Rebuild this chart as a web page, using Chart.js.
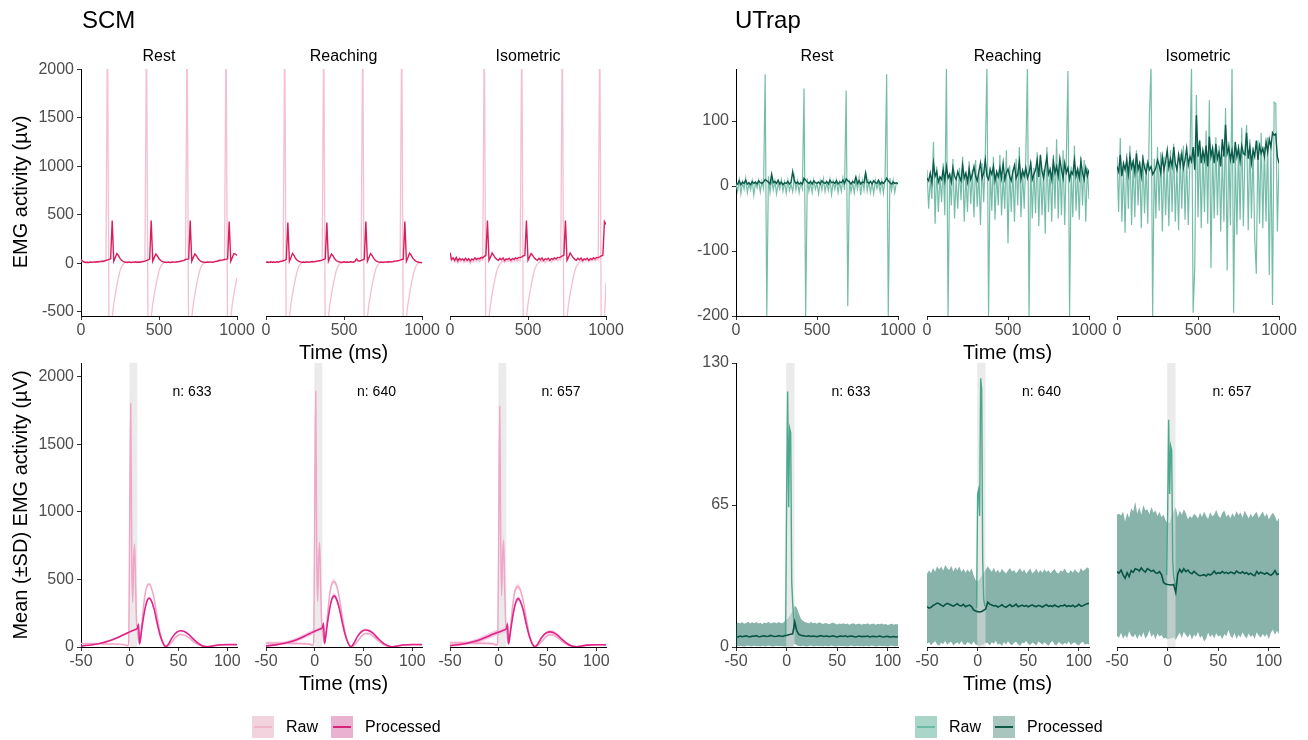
<!DOCTYPE html>
<html>
<head>
<meta charset="utf-8">
<script src="https://cdn.jsdelivr.net/npm/chart.js@4.4.0/dist/chart.umd.min.js"></script>
<style>
  body { margin: 0; background: #fff; }
  #fig { position: relative; width: 1308px; height: 740px; overflow: hidden; font-family: "Liberation Sans", Arial, Helvetica, sans-serif; }
  #fig canvas { position: absolute; }
  .lbl { position: absolute; white-space: nowrap; line-height: 1; color: #000; }
  .key { position: absolute; width: 22px; height: 22px; }
  .key span { position: absolute; left: 2px; right: 2px; top: 10px; height: 2px; }
</style>
</head>
<body>
<div id="fig"></div>
<script>
// ---- sample times ----
var timeTop = [];
for (var t = 0; t <= 1000; t += 10) timeTop.push(t);
var timeAvgUT = [];
for (var t2 = -50; t2 <= 110; t2 += 2) timeAvgUT.push(t2);
var timeAvgSCM = [-50, -40, -30, -20, -10, -5, -2, -1, 0, 1, 2, 3, 4, 5, 6, 7, 8, 9, 10, 11, 12, 14, 16, 18, 20,
  22, 25, 28, 31, 34, 37, 40, 44, 48, 52, 56, 60, 65, 70, 75, 80, 85, 90, 100, 110];
var utSpikeT = [-1, 0, 1, 2, 3, 4, 5, 6, 7, 8];
var bandMs = [-0.5, 8];

var conditions = ['Rest', 'Reaching', 'Isometric'];
var nTrials = ['n: 633', 'n: 640', 'n: 657'];

// ---- tick labels ----
var xTicksTop = [0, 500, 1000];
var xTicksAvg = [-50, 0, 50, 100];
var yTicksScmTop = [-500, 0, 500, 1000, 1500, 2000];
var yTicksUtTop = [-200, -100, 0, 100];
var yTicksScmAvg = [0, 500, 1000, 1500, 2000];
var yTicksUtAvg = [0, 65, 130];

// ---- SCM single trials (0-1000 ms) ----
var scmRestRaw = [30, 15, 10, 12, 8, 15, 10, 14, 12, 18,
  14, 20, 16, 22, 18, 25, 28, 2500, -900, -800,
  -560, -420, -320, -230, -150, -80, -35, -10, 5, 10,
  12, 8, 14, 10, 15, 12, 18, 14, 20, 22,
  25, 30, 2500, -900, -800, -560, -420, -320, -230, -150,
  -80, -35, -10, 5, 10, 8, 12, 10, 15, 12,
  14, 18, 15, 20, 22, 28, 30, 35, 2500, -900,
  -800, -560, -420, -320, -230, -150, -80, -35, -10, 5,
  10, 12, 8, 14, 10, 15, 18, 20, 22, 25,
  28, 30, 35, 2500, -900, -800, -560, -420, -320, -230,
  -150];
var scmRestProc = [40, 22, 12, 8, 10, 6, 12, 9, 14, 10,
  15, 12, 16, 20, 18, 25, 28, 35, 40, 45,
  440, 20, 60, 100, 80, 50, 30, 20, 12, 10,
  8, 12, 6, 10, 9, 14, 8, 12, 10, 15,
  18, 22, 28, 35, 40, 440, 20, 60, 95, 75,
  45, 28, 18, 12, 10, 8, 12, 6, 10, 14,
  9, 12, 15, 18, 22, 25, 30, 38, 42, 45,
  440, 20, 60, 95, 78, 48, 30, 20, 12, 10,
  8, 12, 10, 14, 9, 12, 16, 20, 25, 30,
  32, 35, 38, 40, 45, 430, 20, 60, 100, 95,
  80];
var scmReachRaw = [15, 10, 12, 8, 14, 10, 12, 15, 10, 18,
  20, 22, 2500, -900, -800, -560, -420, -320, -230, -150,
  -80, -35, -10, 5, 10, 8, 12, 10, 14, 12,
  15, 18, 14, 20, 22, 25, 28, 2500, -900, -800,
  -560, -420, -320, -230, -150, -80, -35, -10, 5, 10,
  12, 8, 14, 10, 12, 15, 10, 18, 40, 20,
  25, 28, 2500, -900, -800, -560, -420, -320, -230, -150,
  -80, -35, -10, 5, 10, 12, 8, 14, 10, 15,
  12, 18, 15, 20, 22, 25, 30, 2500, -900, -800,
  -560, -420, -320, -230, -150, -80, -35, -10, 5, 8,
  5];
var scmReachProc = [10, 12, 8, 14, 10, 12, 9, 15, 11, 18,
  20, 25, 30, 40, 420, 20, 60, 100, 78, 48,
  30, 20, 14, 10, 12, 8, 14, 10, 12, 15,
  18, 14, 20, 22, 25, 28, 32, 40, 45, 420,
  20, 60, 95, 75, 45, 28, 18, 12, 10, 8,
  14, 10, 12, 9, 15, 12, 10, 18, 45, 25,
  22, 28, 35, 42, 430, 20, 60, 100, 80, 50,
  30, 20, 14, 10, 12, 8, 14, 11, 15, 12,
  16, 14, 20, 22, 25, 28, 32, 38, 42, 430,
  20, 60, 105, 85, 55, 35, 22, 15, 10, 8,
  5];
var scmIsoRaw = [60, 20, 45, 10, 35, 0, 30, 15, 40, 5,
  30, 12, 35, -5, 28, 10, 40, 20, 35, 15,
  45, 30, 2500, -900, -800, -560, -420, -320, -230, -150,
  -80, -35, -10, 10, 25, 5, 30, 15, 35, 10,
  28, 20, 40, 15, 35, 25, 2500, -900, -800, -560,
  -420, -320, -230, -150, -80, -35, -10, 10, 30, 15,
  35, 5, 28, 20, 40, 12, 35, 30, 45, 25,
  40, 35, 2500, -900, -800, -560, -420, -320, -230, -150,
  -80, -35, -10, 12, 30, 8, 35, 20, 40, 15,
  30, 25, 45, 20, 38, 30, 2500, -900, -800, -560,
  -200];
var scmIsoProc = [110, 40, 55, 30, 60, 25, 50, 35, 45, 28,
  52, 30, 48, 22, 45, 35, 55, 40, 50, 45,
  60, 55, 70, 80, 440, 30, 65, 105, 80, 55,
  40, 30, 50, 35, 55, 28, 45, 38, 52, 30,
  48, 40, 55, 45, 60, 58, 65, 75, 80, 440,
  30, 65, 100, 80, 55, 40, 30, 50, 35, 55,
  28, 45, 38, 52, 30, 48, 40, 55, 45, 60,
  58, 65, 75, 80, 440, 30, 65, 105, 80, 55,
  40, 30, 50, 35, 55, 28, 45, 38, 52, 30,
  48, 40, 55, 45, 60, 58, 65, 75, 80, 430,
  400];

// ---- UTrap single trials (0-1000 ms) ----
var utRestRaw = [3, -8, 10, -12, 6, -5, 12, -10, 4, -6,
  8, -14, 5, -3, 9, -9, 7, -4, 172, -200,
  15, -10, 12, -6, 8, -12, 4, -5, 10, -8,
  6, -11, 9, -7, 3, -9, 14, -6, 8, -10,
  5, -4, 150, -200, 12, -8, 6, -10, 9, -5,
  4, -12, 8, -6, 11, -9, 5, -7, 10, -13,
  7, -5, 9, -10, 6, -8, 12, -6, 147, -185,
  10, -9, 6, -11, 8, -5, 13, -14, 9, -6,
  22, -8, 7, -10, 5, -12, 9, -4, 6, -9,
  8, -11, 10, 172, -200, 12, -7, 9, -10, 5,
  4];
var utRestProc = [5, 3, 8, 2, 6, 4, 9, 3, 5, 2,
  7, 4, 6, 3, 8, 5, 4, 6, 10, 8,
  6, 3, 18, 5, 7, 4, 9, 3, 6, 2,
  5, 4, 7, 3, 6, 22, 8, 4, 6, 3,
  5, 3, 12, 9, 6, 4, 7, 3, 8, 5,
  4, 6, 3, 8, 5, 4, 7, 3, 9, 5,
  6, 4, 8, 3, 6, 5, 9, 4, 11, 8,
  6, 3, 7, 5, 14, 4, 8, 3, 6, 5,
  20, 6, 4, 7, 3, 8, 5, 4, 9, 3,
  6, 4, 7, 12, 8, 5, 3, 6, 4, 5,
  3];
var utReachRaw = [25, -35, 10, -20, 68, -58, 30, -40, 15, -25,
  35, -45, 185, -200, 20, -30, 42, -50, 12, -35,
  28, -22, 45, -55, 18, -40, 38, -28, 25, -48,
  40, -32, 22, -60, 35, -25, 50, 185, -200, 30,
  -38, 45, -52, 20, -30, 48, -45, 15, -35, 55,
  -88, 32, -40, 25, -55, 42, -30, 60, -48, 22,
  -35, 45, 185, -200, 38, -50, 28, -42, 52, -62,
  35, -45, 25, -73, 60, -40, 30, -55, 48, -35,
  72, -50, 38, -45, 55, -60, 42, 177, -200, 30,
  -48, 62, -38, 25, -52, 45, -30, 40, -55, 28,
  -20];
var utReachProc = [12, 8, 20, 5, 35, 15, 22, 6, 14, 10,
  25, 8, 30, 12, 18, 6, 28, 15, 10, 22,
  14, 8, 32, 12, 20, 6, 26, 10, 18, 30,
  15, 8, 22, 35, 12, 20, 40, 15, 10, 25,
  18, 30, 8, 22, 14, 28, 12, 35, 10, 20,
  26, 15, 8, 22, 32, 12, 18, 38, 10, 24,
  15, 28, 12, 20, 35, 10, 18, 25, 40, 14,
  48, 22, 12, 30, 45, 18, 25, 10, 38, 20,
  30, 15, 42, 25, 12, 35, 20, 28, 10, 22,
  18, 40, 15, 26, 12, 38, 20, 10, 28, 15,
  25];
var utIsoRaw = [45, -40, 74, -55, 30, -72, 50, -35, 62, -60,
  40, -48, 55, -30, 38, -65, 48, -42, 35, -58,
  109, 185, -200, 42, -50, 60, -38, 52, -70, 45,
  -45, 38, -62, 55, -40, 65, -55, 30, -68, 50,
  -35, 62, -52, 45, -60, 38, 185, -195, -125, 140,
  -48, 70, -65, 55, -40, 85, -58, 132, -126, 60,
  -50, 75, -45, 62, -70, 50, -55, 120, -130, 68,
  -60, 185, -195, 58, -75, 65, -52, 90, -62, 55,
  94, -68, 72, -50, 60, -80, -135, 70, -58, 82,
  -65, 60, -55, 75, -137, 68, -183, 129, 127, -70,
  40];
var utIsoProc = [30, 22, 48, 15, 35, 25, 40, 18, 45, 28,
  38, 20, 50, 25, 35, 15, 42, 28, 20, 36,
  25, 30, 18, 22, 28, 40, 32, 20, 45, 25,
  38, 55, 28, 42, 30, 60, 35, 25, 48, 32,
  50, 28, 40, 58, 32, 45, 38, 60, 25, 109,
  45, 70, 35, 55, 40, 62, 30, 76, 45, 58,
  35, 65, 42, 52, 30, 72, 45, 94, 50, 60,
  40, 55, 35, 68, 45, 58, 38, 62, 50, 48,
  82, 42, 60, 35, 55, 45, 70, 40, 62, 50,
  58, 45, 68, 52, 72, 60, 82, 78, 80, 45,
  35];

// ---- SCM averages (-50..110 ms), mean and SD ----
var scmRestRawMean = [25, 25, 24, 22, 20, 16, 10, 40, 1000, 1800, 700, 330, 640, 760, 450, 180, 110, 50, 20, 60, 140,
  290, 400, 455, 465, 440, 360, 230, 110, 35, 3, 12, 45, 78, 92, 88, 72, 42, 18, 5, 2, 6, 12, 15, 15];
var scmRestRawSd = [3, 3, 3, 3, 3, 3, 3, 5, 60, 80, 40, 20, 30, 30, 20, 10, 5, 5, 4, 4, 5,
  6, 8, 10, 10, 10, 8, 6, 5, 4, 3, 3, 3, 4, 4, 4, 4, 3, 3, 3, 3, 3, 3, 3, 3];
var scmRestProcMean = [8, 15, 28, 48, 78, 95, 105, 108, 112, 115, 118, 121, 124, 127, 130, 133, 140, 170, 25, 60, 115,
  215, 295, 345, 362, 345, 280, 180, 90, 30, 2, 25, 75, 108, 120, 115, 95, 60, 28, 8, 2, 8, 15, 18, 18];
var scmRestProcSd = [3, 4, 5, 6, 7, 8, 8, 8, 8, 8, 8, 8, 8, 8, 8, 8, 10, 15, 5, 5, 8,
  10, 10, 10, 10, 10, 10, 8, 6, 4, 2, 3, 4, 5, 5, 5, 5, 4, 3, 2, 2, 2, 2, 2, 2];
var scmReachRawMean = [28, 30, 28, 26, 24, 20, 12, 45, 1050, 1890, 720, 340, 650, 770, 460, 190, 115, 55, 22, 65, 150,
  305, 420, 475, 485, 460, 375, 240, 115, 36, 3, 10, 42, 80, 100, 98, 80, 46, 20, 6, 2, 6, 12, 16, 16];
var scmReachRawSd = [10, 10, 10, 10, 10, 8, 6, 8, 150, 200, 80, 40, 50, 50, 40, 20, 10, 8, 6, 8, 10,
  15, 18, 20, 20, 20, 18, 14, 10, 6, 3, 4, 6, 8, 8, 8, 7, 5, 4, 3, 3, 3, 3, 3, 3];
var scmReachProcMean = [8, 16, 30, 50, 82, 100, 110, 113, 117, 120, 123, 126, 129, 132, 135, 138, 145, 175, 28, 65, 120,
  225, 310, 362, 378, 360, 292, 188, 95, 32, 2, 26, 80, 114, 126, 120, 100, 63, 30, 9, 2, 8, 15, 18, 18];
var scmReachProcSd = [6, 8, 10, 14, 16, 16, 16, 16, 16, 16, 16, 16, 16, 16, 16, 16, 18, 20, 8, 8, 12,
  15, 18, 20, 20, 20, 18, 15, 10, 6, 3, 5, 8, 10, 10, 10, 9, 7, 5, 3, 3, 3, 3, 3, 3];
var scmIsoRawMean = [30, 32, 30, 28, 26, 22, 14, 40, 900, 1780, 800, 380, 680, 790, 470, 200, 120, 55, 22, 60, 140,
  285, 395, 440, 448, 425, 345, 222, 105, 33, 3, 12, 40, 72, 90, 88, 72, 42, 18, 5, 2, 6, 12, 16, 16];
var scmIsoRawSd = [12, 12, 12, 12, 12, 10, 8, 10, 150, 220, 90, 40, 50, 50, 40, 20, 10, 8, 6, 8, 10,
  15, 18, 22, 22, 22, 18, 14, 10, 6, 3, 4, 6, 8, 8, 8, 7, 5, 4, 3, 3, 3, 3, 3, 3];
var scmIsoProcMean = [10, 18, 32, 52, 82, 98, 106, 108, 110, 112, 115, 118, 121, 124, 127, 130, 138, 172, 25, 60, 112,
  210, 290, 340, 358, 340, 275, 176, 88, 28, 2, 22, 70, 100, 112, 108, 90, 56, 26, 8, 2, 8, 14, 17, 17];
var scmIsoProcSd = [8, 10, 12, 16, 20, 20, 20, 20, 20, 20, 20, 20, 20, 20, 20, 20, 20, 22, 8, 8, 12,
  15, 16, 18, 18, 18, 16, 14, 10, 6, 3, 5, 8, 10, 12, 12, 10, 8, 5, 3, 3, 3, 3, 3, 3];

// ---- UTrap averages (-50..110 ms, 2 ms steps) ----
var utRestMean = [4.8, 4.6, 5.0, 4.7, 4.9, 5.1, 4.8, 4.6, 5.0, 4.9,
  5.2, 4.8, 4.7, 5.0, 5.1, 4.8, 4.9, 5.3, 5.0, 4.8,
  4.9, 5.1, 5.0, 4.8, 5.2, 5.3, 5.6, 5.8, 6.0, 11.5,
  7.5, 5.8, 5.4, 5.2, 5.0, 4.9, 5.1, 4.8, 5.0, 4.9,
  4.7, 5.0, 5.2, 4.8, 4.9, 5.0, 4.7, 4.9, 5.1, 4.8,
  4.6, 4.9, 5.0, 4.8, 5.1, 4.7, 4.9, 5.0, 4.8, 4.6,
  4.8, 5.0, 4.7, 4.9, 4.8, 5.0, 4.6, 4.8, 4.9, 4.7,
  4.8, 5.0, 4.7, 4.6, 4.8, 4.9, 4.5, 4.7, 4.8, 4.6,
  4.7];
var utRestUpper = [10.5, 11.2, 10.8, 11.5, 10.6, 11.0, 11.6, 10.7, 11.3, 10.9,
  11.4, 10.8, 11.1, 10.5, 11.2, 10.9, 11.6, 10.8, 11.0, 11.3,
  10.7, 11.5, 11.0, 10.9, 11.8, 12.5, 13.5, 15.0, 16.5, 19.0,
  18.0, 15.5, 13.0, 12.0, 11.5, 11.2, 10.8, 11.4, 10.9, 11.1,
  10.6, 11.3, 10.9, 10.5, 11.0, 10.8, 10.4, 10.9, 11.2, 10.6,
  10.3, 10.8, 10.5, 10.9, 10.4, 10.7, 10.2, 10.6, 10.9, 10.3,
  10.5, 10.8, 10.2, 10.6, 10.4, 10.9, 10.3, 10.5, 10.7, 10.2,
  10.6, 10.4, 10.8, 10.3, 10.5, 10.1, 10.4, 10.6, 10.2, 10.5,
  10.3];
var utRestLower = [0.5, 0.3, 0.6, 0.4, 0.2, 0.5, 0.7, 0.3, 0.4, 0.6,
  0.3, 0.5, 0.2, 0.6, 0.4, 0.3, 0.7, 0.5, 0.2, 0.4,
  0.6, 0.3, 0.5, 0.4, 0.2, 0.3, 0.2, 0.3, 0.4, 1.5,
  0.8, 0.5, 0.3, 0.6, 0.4, 0.2, 0.5, 0.7, 0.3, 0.4,
  0.6, 0.3, 0.5, 0.2, 0.6, 0.4, 0.3, 0.7, 0.5, 0.2,
  0.4, 0.6, 0.3, 0.5, 0.4, 0.2, 0.5, 0.7, 0.3, 0.4,
  0.6, 0.3, 0.5, 0.2, 0.6, 0.4, 0.3, 0.7, 0.5, 0.2,
  0.4, 0.6, 0.3, 0.5, 0.4, 0.2, 0.5, 0.7, 0.3, 0.4,
  0.5];
var utReachMean = [18.5, 17.8, 18.2, 19.0, 19.5, 20.1, 19.8, 19.2, 18.6, 19.4,
  20.0, 19.6, 19.1, 18.7, 19.3, 19.8, 19.0, 18.8, 19.5, 18.4,
  18.9, 19.2, 18.5, 17.0, 16.5, 16.2, 16.0, 16.3, 16.8, 17.5,
  20.5, 19.6, 19.2, 18.8, 19.0, 18.3, 18.7, 19.3, 18.6, 18.2,
  18.8, 19.4, 18.5, 18.9, 19.6, 18.4, 18.8, 19.2, 18.6, 19.0,
  18.4, 18.9, 19.3, 18.7, 18.5, 19.1, 18.8, 18.3, 18.9, 19.4,
  18.6, 18.9, 18.5, 19.2, 18.7, 18.4, 19.0, 18.8, 19.3, 18.5,
  18.9, 18.6, 19.1, 18.4, 18.8, 19.5, 18.7, 18.9, 19.4, 19.8,
  20.0];
var utReachUpper = [33.5, 35.0, 33.8, 36.2, 34.5, 37.0, 35.5, 36.8, 34.9, 37.5,
  36.0, 35.2, 37.2, 34.6, 36.5, 35.1, 36.9, 34.3, 35.8, 34.0,
  35.5, 34.2, 36.0, 33.0, 30.5, 30.0, 31.0, 32.5, 34.0, 35.5,
  37.0, 35.6, 34.4, 36.3, 34.1, 35.4, 33.9, 35.8, 34.6, 33.7,
  35.0, 36.2, 34.5, 35.3, 33.8, 34.9, 36.0, 34.2, 35.5, 33.6,
  34.8, 35.9, 33.7, 34.6, 35.8, 33.9, 35.2, 34.0, 35.6, 34.3,
  35.1, 33.8, 34.9, 35.7, 34.1, 33.6, 35.0, 34.4, 35.9, 34.2,
  33.8, 35.3, 34.0, 35.6, 34.5, 33.9, 36.2, 34.8, 35.4, 36.5,
  35.8];
var utReachLower = [1.5, 2.2, 0.8, 1.8, 2.6, 1.2, 0.6, 2.0, 1.4, 2.8,
  1.0, 1.9, 2.4, 0.7, 1.6, 2.1, 1.1, 2.7, 1.3, 0.9,
  2.3, 1.7, 1.0, 2.5, 1.2, 0.8, 0.6, 0.9, 1.1, 2.0,
  1.8, 0.7, 2.2, 1.5, 2.9, 1.0, 1.6, 0.5, 2.3, 1.2,
  2.6, 1.4, 0.8, 1.9, 2.4, 1.1, 0.6, 2.0, 1.7, 2.8,
  1.3, 0.9, 2.1, 1.5, 0.7, 2.5, 1.8, 1.0, 2.2, 1.4,
  0.6, 1.9, 2.7, 1.2, 0.8, 2.3, 1.6, 1.0, 2.0, 1.3,
  2.5, 0.9, 1.7, 2.2, 1.1, 0.7, 1.8, 2.4, 1.0, 1.5,
  1.2];
var utIsoMean = [34.5, 33.8, 35.2, 33.0, 31.5, 34.0, 32.2, 35.0, 34.2, 35.8,
  35.5, 34.8, 36.2, 35.0, 34.3, 35.9, 35.3, 34.6, 35.1, 34.0,
  33.8, 34.5, 33.0, 29.5, 28.8, 28.6, 28.5, 28.4, 28.6, 25.0,
  33.5, 35.5, 34.2, 35.8, 34.5, 35.2, 34.0, 33.5, 34.6, 33.8,
  33.0, 32.6, 32.8, 33.1, 32.5, 33.4, 32.9, 33.6, 34.8, 33.5,
  34.0, 33.7, 34.5, 33.8, 34.2, 33.6, 34.3, 34.0, 33.5, 34.7,
  34.1, 33.8, 34.4, 33.6, 34.0, 33.2, 33.8, 33.0, 32.6, 34.6,
  33.5, 34.2, 33.8, 33.4, 34.0, 33.3, 32.8, 33.6, 35.0, 33.2,
  33.5];
var utIsoUpper = [60.5, 61.0, 60.2, 62.0, 57.5, 61.5, 59.0, 63.5, 62.0, 66.5,
  61.0, 64.0, 60.5, 65.0, 62.5, 63.0, 60.8, 64.2, 61.5, 62.5,
  60.0, 61.8, 59.5, 60.5, 58.0, 56.5, 57.0, 60.0, 62.0, 64.0,
  59.5, 62.5, 60.5, 63.0, 61.2, 58.5, 60.0, 59.0, 61.0, 60.2,
  58.8, 61.5, 59.5, 62.0, 60.0, 58.6, 61.8, 59.8, 60.5, 62.8,
  60.2, 59.0, 61.4, 62.5, 59.6, 60.8, 58.9, 61.2, 59.5, 62.2,
  60.4, 61.6, 59.2, 62.4, 60.6, 58.8, 61.0, 59.4, 60.9, 61.8,
  59.0, 60.6, 62.0, 59.6, 61.2, 58.4, 60.2, 61.5, 59.8, 57.5,
  59.0];
var utIsoLower = [5.0, 4.2, 6.5, 3.8, 5.5, 4.0, 7.2, 5.1, 4.5, 6.0,
  3.5, 5.8, 4.4, 6.8, 3.9, 5.2, 7.5, 4.6, 5.9, 3.6,
  6.2, 4.8, 5.5, 3.8, 4.2, 3.5, 3.8, 4.0, 4.5, 3.2,
  5.0, 6.5, 4.0, 7.0, 5.5, 4.3, 6.1, 3.4, 5.6, 4.7,
  6.9, 4.1, 5.3, 2.5, 3.8, 6.6, 4.5, 5.8, 3.9, 6.3,
  4.8, 5.4, 3.6, 6.0, 4.9, 7.8, 5.2, 4.0, 6.4, 3.7,
  5.6, 4.4, 6.7, 5.0, 3.9, 6.2, 4.6, 5.5, 3.8, 6.8,
  5.1, 4.3, 6.0, 4.7, 5.9, 3.5, 6.5, 8.0, 5.6, 7.4,
  6.0];
var utRestSpike = [5, 70, 117, 64, 100, 98, 30, 20, 12, 8];
var utReachSpike = [18, 70, 72, 60, 123, 118, 40, 22, 19, 19];
var utIsoSpike = [33, 60, 104, 70, 92, 90, 40, 32, 30, 28];

// ---- helpers ----
var fig = document.getElementById('fig');
var FONT = '"Liberation Sans", Arial, Helvetica, sans-serif';

function pts(t, v) {
  return t.map(function (x, i) { return { x: x, y: v[i] }; });
}
function line(t, v, color, width, order) {
  return { data: pts(t, v), borderColor: color, borderWidth: width, pointRadius: 0, fill: false, tension: 0, order: order };
}
function smooth(t, v, color, width, order) {
  var d = line(t, v, color, width, order);
  d.cubicInterpolationMode = 'monotone';
  return d;
}
function ribbon(t, up, lo, color, order, mono) {
  var a = { data: pts(t, up), borderWidth: 0, pointRadius: 0, fill: '+1', backgroundColor: color, order: order };
  var b = { data: pts(t, lo), borderWidth: 0, pointRadius: 0, fill: false, order: order };
  if (mono) { a.cubicInterpolationMode = 'monotone'; b.cubicInterpolationMode = 'monotone'; }
  return [a, b];
}
function band(ymax) {
  return { data: pts(bandMs, [ymax, ymax]), borderWidth: 0, pointRadius: 0, fill: 'start',
    backgroundColor: 'rgba(222,222,222,0.62)', order: 2 };
}
function plus(m, s) { return m.map(function (v, i) { return v + s[i]; }); }
function minus(m, s) { return m.map(function (v, i) { return Math.max(0, v - s[i]); }); }
function plain(v) { return String(v); }

function panel(left, top, w, h, cfg) {
  var ML = 60, MT = 14, MR = 26, MB = 30;
  var c = document.createElement('canvas');
  c.width = w + ML + MR;
  c.height = h + MT + MB;
  c.style.left = (left - ML) + 'px';
  c.style.top = (top - MT) + 'px';
  fig.appendChild(c);
  new Chart(c, {
    type: 'line',
    data: { datasets: cfg.datasets },
    options: {
      responsive: false, animation: false, devicePixelRatio: 1, events: [],
      layout: { padding: { left: 0, top: MT, right: MR, bottom: 0 } },
      plugins: { legend: { display: false }, tooltip: { enabled: false } },
      scales: {
        x: {
          type: 'linear', min: cfg.xr[0], max: cfg.xr[1],
          afterBuildTicks: function (s) { s.ticks = cfg.xt.map(function (v) { return { value: v }; }); },
          afterFit: function (s) { s.height = MB; s.paddingLeft = 0; s.paddingRight = 0; },
          border: { display: true, color: '#000', width: 1 },
          grid: { drawOnChartArea: false, drawTicks: true, tickLength: 4, tickColor: '#333' },
          ticks: { color: '#4d4d4d', padding: 1, maxRotation: 0, autoSkip: false, callback: plain,
            font: { family: FONT, size: 16 } }
        },
        y: {
          type: 'linear', min: cfg.yr[0], max: cfg.yr[1],
          afterBuildTicks: function (s) { s.ticks = cfg.yt.map(function (v) { return { value: v }; }); },
          afterFit: function (s) { s.width = ML; s.paddingTop = 0; s.paddingBottom = 0; },
          border: { display: cfg.showY, color: '#000', width: 1 },
          grid: { display: cfg.showY, drawOnChartArea: false, drawTicks: true, tickLength: 4, tickColor: '#333' },
          ticks: { display: cfg.showY, color: '#4d4d4d', padding: 3, autoSkip: false, callback: plain,
            font: { family: FONT, size: 16 } }
        }
      }
    }
  });
}

function label(text, x, y, size, mode) {
  var d = document.createElement('div');
  d.className = 'lbl';
  d.textContent = text;
  d.style.left = x + 'px';
  d.style.top = y + 'px';
  d.style.fontSize = size + 'px';
  if (mode === 'rot') d.style.transform = 'translate(-50%,-50%) rotate(-90deg)';
  else if (mode === 'left') d.style.transform = 'translate(0,-50%)';
  else d.style.transform = 'translate(-50%,-50%)';
  fig.appendChild(d);
}
function key(x, y, fillColor, lineColor) {
  var k = document.createElement('div');
  k.className = 'key';
  k.style.left = x + 'px';
  k.style.top = (y - 11) + 'px';
  k.style.background = fillColor;
  var s = document.createElement('span');
  s.style.background = lineColor;
  k.appendChild(s);
  fig.appendChild(k);
}

// ---- layout ----
var scmLefts = [81, 265.5, 450], scmW = 156;
var utLefts = [736, 926.5, 1117], utW = 162;
var topY = 69, topH = 247, avgY = 363, avgH = 284;

var scmTop = [[scmRestRaw, scmRestProc], [scmReachRaw, scmReachProc], [scmIsoRaw, scmIsoProc]];
var utTop = [[utRestRaw, utRestProc], [utReachRaw, utReachProc], [utIsoRaw, utIsoProc]];
var scmAvg = [
  [scmRestRawMean, scmRestRawSd, scmRestProcMean, scmRestProcSd],
  [scmReachRawMean, scmReachRawSd, scmReachProcMean, scmReachProcSd],
  [scmIsoRawMean, scmIsoRawSd, scmIsoProcMean, scmIsoProcSd]
];
var utAvg = [
  [utRestMean, utRestUpper, utRestLower, utRestSpike],
  [utReachMean, utReachUpper, utReachLower, utReachSpike],
  [utIsoMean, utIsoUpper, utIsoLower, utIsoSpike]
];

for (var i = 0; i < 3; i++) {
  // SCM single trial
  panel(scmLefts[i], topY, scmW, topH, {
    xr: [0, 1000], xt: xTicksTop, yr: [-545, 2005], yt: yTicksScmTop, showY: i === 0,
    datasets: [
      line(timeTop, scmTop[i][1], '#d91e5f', 1.4, 0),
      line(timeTop, scmTop[i][0], '#f4bfd3', 1.3, 1)
    ]
  });
  // UTrap single trial
  panel(utLefts[i], topY, utW, topH, {
    xr: [0, 1000], xt: xTicksTop, yr: [-200, 180], yt: yTicksUtTop, showY: i === 0,
    datasets: [
      line(timeTop, utTop[i][1], '#0c5a49', 1.4, 0),
      line(timeTop, utTop[i][0], '#76bda9', 1.2, 1)
    ]
  });
  // SCM average
  var a = scmAvg[i];
  var ds = [
    smooth(timeAvgSCM, a[2], '#e0248a', 1.6, 0),
    smooth(timeAvgSCM, a[0], '#f0a6c6', 1.5, 1),
    band(2100)
  ];
  ds = ds.concat(ribbon(timeAvgSCM, plus(a[2], a[3]), minus(a[2], a[3]), 'rgba(224,36,138,0.28)', 3, true));
  ds = ds.concat(ribbon(timeAvgSCM, plus(a[0], a[1]), minus(a[0], a[1]), 'rgba(240,160,196,0.35)', 4, true));
  panel(scmLefts[i], avgY, scmW, avgH, {
    xr: [-50, 110], xt: xTicksAvg, yr: [0, 2100], yt: yTicksScmAvg, showY: i === 0, datasets: ds
  });
  // UTrap average
  var u = utAvg[i];
  var du = [
    line(timeAvgUT, u[0], '#0a5444', 1.6, 0),
    line(utSpikeT, u[3], '#4aa88c', 1.4, 1),
    band(130)
  ];
  du = du.concat(ribbon(timeAvgUT, u[1], u[2], 'rgba(16,104,86,0.5)', 3, false));
  panel(utLefts[i], avgY, utW, avgH, {
    xr: [-50, 110], xt: xTicksAvg, yr: [0, 130], yt: yTicksUtAvg, showY: i === 0, datasets: du
  });

  // strip titles and n labels
  label(conditions[i], scmLefts[i] + scmW / 2, 56, 16);
  label(conditions[i], utLefts[i] + utW / 2, 56, 16);
  label(nTrials[i], scmLefts[i] + 111, 391, 14);
  label(nTrials[i], utLefts[i] + 115, 391, 14);
}

// titles and axis titles
label('SCM', 82, 20, 24, 'left');
label('UTrap', 735, 20, 24, 'left');
label('Time (ms)', scmLefts[1] + scmW / 2, 352, 20);
label('Time (ms)', utLefts[1] + utW / 2, 352, 20);
label('Time (ms)', scmLefts[1] + scmW / 2, 683, 20);
label('Time (ms)', utLefts[1] + utW / 2, 683, 20);
label('EMG activity (\u00b5v)', 20, 192, 20, 'rot');
label('Mean (\u00b1SD) EMG activity (\u00b5V)', 20, 505, 20, 'rot');

// legends
key(252, 727, '#f2d3de', '#f1b5ca');
label('Raw', 286, 727, 16, 'left');
key(331, 727, '#eab2d0', '#d6247a');
label('Processed', 365, 727, 16, 'left');
key(915, 727, '#a9d6c9', '#6dbba6');
label('Raw', 949, 727, 16, 'left');
key(993, 727, '#a8c5be', '#0e5b49');
label('Processed', 1027, 727, 16, 'left');
</script>
</body>
</html>
